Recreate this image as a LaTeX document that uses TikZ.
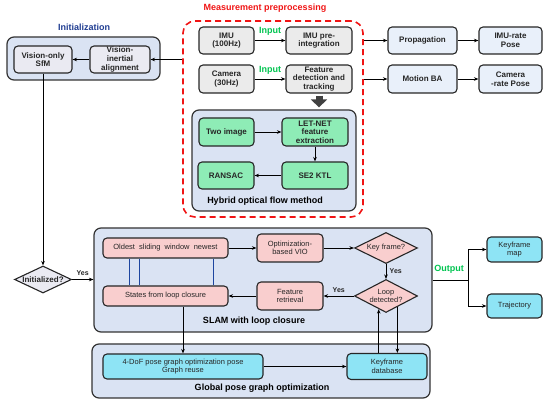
\documentclass[tikz,border=0pt]{standalone}
\usepackage{fontspec}
\setmainfont{Liberation Sans}
\usetikzlibrary{shapes.geometric,arrows.meta}
\definecolor{grpblue}{RGB}{218,227,243}
\definecolor{boxgray}{RGB}{235,235,235}
\definecolor{boxlav}{RGB}{234,234,242}
\definecolor{boxlblue}{RGB}{233,240,250}
\definecolor{mint}{RGB}{142,236,182}
\definecolor{pinkbox}{RGB}{249,206,206}
\definecolor{cyanbox}{RGB}{142,228,245}
\definecolor{titleblue}{RGB}{31,60,145}
\definecolor{ingreen}{RGB}{0,196,80}
\definecolor{dashred}{RGB}{240,20,20}
\definecolor{linkblue}{RGB}{30,70,160}
\definecolor{arrgray}{RGB}{64,64,64}

\begin{document}
\begin{tikzpicture}[x=1pt, y=-1pt, >={Stealth[length=4.5pt,width=3.6pt]},
  wh/.style 2 args={minimum width=#1, minimum height=#2},
  grp/.style={draw=black!80, line width=1.2pt, rounded corners=7pt, fill=grpblue},
  blk/.style={draw=black!85, line width=1.1pt, rounded corners=4pt, align=center,
    inner sep=1pt, text=black!85, font=\fontsize{8}{8.7}\selectfont\bfseries},
  thin/.style={font=\fontsize{7.5}{8.5}\selectfont},
  gbox/.style={blk, fill=boxgray},
  lbox/.style={blk, fill=boxlav},
  pbox/.style={blk, fill=boxlblue},
  mbox/.style={blk, fill=mint},
  kbox/.style={blk, thin, fill=pinkbox},
  cbox/.style={blk, thin, fill=cyanbox},
  dia/.style={diamond, aspect=1.9, draw=black!85, line width=1.1pt, inner sep=0pt,
    align=center, text=black!85, fill=pinkbox, font=\fontsize{7.5}{8.5}\selectfont},
  ttl/.style={font=\fontsize{9}{10}\selectfont\bfseries},
  lbl/.style={font=\fontsize{7}{8}\selectfont\bfseries, text=black!85},
  lnk/.style={line width=0.8pt}]

  \useasboundingbox (0,0) rectangle (550,406);

  \node[grp, wh={153}{43}] (ini) at (83.5,58.5) {};
  \node[draw=dashred, line width=1.6pt, dash pattern=on 6pt off 4pt, rounded corners=12pt,
    wh={180}{196}] (mp) at (273,119) {};
  \node[grp, wh={164}{101}] (hyb) at (274,160.5) {};
  \node[grp, wh={338}{104}] (slam) at (263,280) {};
  \node[grp, wh={338}{54}] (glob) at (261,371) {};

  \node[ttl, text=titleblue] (tini) at (84,27) {Initialization};
  \node[ttl, text=dashred] (tmp) at (265,8) {Measurement preprocessing};
  \node[ttl] (thyb) at (265,201) {Hybrid optical flow method};
  \node[ttl] (tslam) at (254,321) {SLAM with loop closure};
  \node[ttl] (tglob) at (262,388) {Global pose graph optimization};

  \node[lbox, wh={58}{27}] (sfm) at (43,59.5) {Vision-only\\SfM};
  \node[lbox, wh={60}{27}] (via) at (120,59.5) {Vision-\\inertial\\alignment};

  \node[gbox, wh={55}{27}] (imu) at (226.5,40.5) {IMU\\(100Hz)};
  \node[gbox, wh={66}{27}] (pre) at (319,40.5) {IMU pre-\\integration};
  \node[gbox, wh={55}{28}] (cam) at (226.5,79) {Camera\\(30Hz)};
  \node[gbox, wh={66}{28}] (fdt) at (319,79) {Feature\\detection and\\tracking};
  \node[ttl, text=ingreen] (in1) at (270,31) {Input};
  \node[ttl, text=ingreen] (in2) at (270,70) {Input};

  \node[mbox, wh={55}{28}] (two) at (226.5,132) {Two image};
  \node[mbox, wh={66}{28}] (let) at (315,132) {LET-NET\\feature\\extraction};
  \node[mbox, wh={66}{27}] (se2) at (315,175.5) {SE2 KTL};
  \node[mbox, wh={56}{27}] (ran) at (226,175.5) {RANSAC};

  \node[pbox, wh={69}{27}] (prop) at (422.5,40.5) {Propagation};
  \node[pbox, wh={63}{27}] (imur) at (510.5,40.5) {IMU-rate\\Pose};
  \node[pbox, wh={69}{28}] (mba) at (422.5,79) {Motion BA};
  \node[pbox, wh={63}{28}] (camr) at (510.5,79) {Camera\\-rate Pose};

  \node[dia, aspect=2.1, fill=boxlav, wh={57}{27}, font=\fontsize{8}{9}\selectfont\bfseries]
    (init) at (43,279.5) {Initialized?};

  \node[kbox, wh={125}{20}] (old) at (165.5,248) {Oldest~ sliding~ window~ newest};
  \node[kbox, wh={125}{20}] (sta) at (165.5,296) {States from loop closure};
  \node[kbox, wh={66}{28}] (vio) at (290,248) {Optimization-\\based VIO};
  \node[kbox, wh={66}{28}] (fr) at (290,296) {Feature\\retrieval};
  \node[dia, wh={63}{31}] (kf) at (386,248) {Key frame?};
  \node[dia, wh={63}{33}] (ld) at (386,296) {Loop\\detected?};

  \node[cbox, wh={55}{25}] (km) at (514.5,249.5) {Keyframe\\map};
  \node[cbox, wh={55}{24}] (tr) at (514.5,306) {Trajectory};
  \node[ttl, text=ingreen] (out) at (449,269) {Output};

  \node[cbox, wh={160}{25}] (dof) at (183,366.5) {4-DoF pose graph optimization pose\\Graph reuse};
  \node[cbox, wh={80}{26}] (db) at (387,366.5) {Keyframe\\database};

  \draw[lnk, ->] (mp.west |- via) to (via);
  \draw[lnk, ->] (via) to (sfm);
  \draw[lnk, ->] (sfm) to (init);
  \draw[lnk, ->] (init) to node[lbl, above] {Yes} (init -| slam.west);

  \draw[lnk, ->] (imu) to (pre);
  \draw[lnk, ->] (cam) to (fdt);
  \draw[line width=7pt, arrgray, -{Triangle[width=16pt,length=8pt]}]
    ([yshift=-2pt]fdt.south) to ([yshift=2pt]hyb.north -| fdt.south);
  \draw[lnk, ->] (two) to (let);
  \draw[lnk, ->] (let) to (se2);
  \draw[lnk, ->] (se2) to (ran);

  \draw[lnk, ->] (mp.east |- prop) to (prop);
  \draw[lnk, ->] (prop) to (imur);
  \draw[lnk, ->] (mp.east |- mba) to (mba);
  \draw[lnk, ->] (mba) to (camr);

  \draw[line width=0.9pt, linkblue] ([xshift=27pt]old.south west) to ([xshift=27pt]sta.north west);
  \draw[line width=0.9pt, linkblue] ([xshift=37pt]old.south west) to ([xshift=37pt]sta.north west);
  \draw[line width=0.9pt, linkblue] ([xshift=111pt]old.south west) to ([xshift=111pt]sta.north west);

  \draw[lnk, ->] (old) to (vio);
  \draw[lnk, ->] (vio) to (kf);
  \draw[lnk, ->] (kf) to node[lbl, right] {Yes} (ld);
  \draw[lnk, ->] (ld) to node[lbl, above] {Yes} (fr);
  \draw[lnk, ->] (fr) to (sta);

  \coordinate (oj) at (468,280);
  \draw[lnk] (slam.east) to (oj);
  \draw[lnk, ->] (oj) |- (km);
  \draw[lnk, ->] (oj) |- (tr);

  \draw[lnk, ->] (sta.south -| dof.north) to (dof.north);
  \draw[lnk, ->] (dof) to (db);
  \draw[lnk, ->] (db.north -| ld.241) to (ld.241);
  \draw[lnk, ->] (ld.316) to (ld.316 |- db.north);

\end{tikzpicture}
\end{document}
